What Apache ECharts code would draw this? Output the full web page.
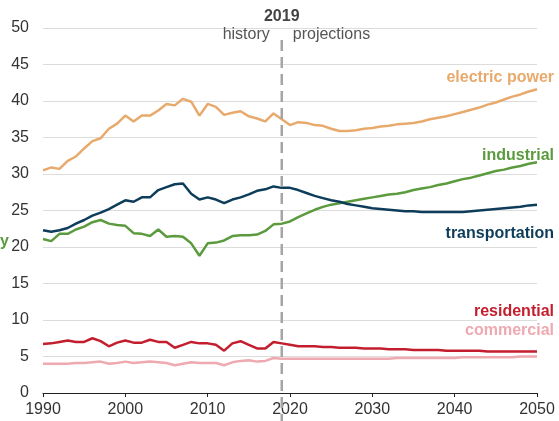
<!DOCTYPE html>
<html>
<head>
<meta charset="utf-8">
<script src="https://cdn.jsdelivr.net/npm/echarts@6/dist/echarts.min.js"></script>
<style>
html, body { margin: 0; padding: 0; background: #fff; }
#chart { width: 559px; height: 421px; }
</style>
</head>
<body>
<div id="chart"></div>
<script>
var startYear = 1990;
var endYear = 2050;
var yTicks = [0, 5, 10, 15, 20, 25, 30, 35, 40, 45, 50];
var xTicks = [1990, 2000, 2010, 2020, 2030, 2040, 2050];

// values per year, 1990..2050
var electricPower = [
    30.5, 30.9, 30.7, 31.8, 32.4, 33.5, 34.5, 34.9, 36.2, 36.9,
    38.0, 37.2, 38.0, 38.0, 38.7, 39.6, 39.4, 40.3, 39.9, 38.0,
    39.6, 39.2, 38.1, 38.4, 38.6, 37.9, 37.6, 37.2, 38.3, 37.5,
    36.7, 37.1, 37.0, 36.7, 36.6, 36.2, 35.9, 35.9, 36.0, 36.2,
    36.3, 36.5, 36.6, 36.8, 36.9, 37.0, 37.2, 37.5, 37.7, 37.9,
    38.2, 38.5, 38.8, 39.1, 39.5, 39.8, 40.2, 40.6, 40.9, 41.3,
    41.6
];
var industrial = [
    21.1, 20.8, 21.8, 21.8, 22.4, 22.8, 23.4, 23.7, 23.2, 23.0,
    22.9, 21.9, 21.8, 21.5, 22.4, 21.4, 21.5, 21.4, 20.5, 18.8,
    20.5, 20.6, 20.9, 21.5, 21.6, 21.6, 21.7, 22.2, 23.1, 23.2,
    23.5, 24.1, 24.6, 25.1, 25.5, 25.8, 26.0, 26.2, 26.4, 26.6,
    26.8, 27.0, 27.2, 27.3, 27.5, 27.8, 28.0, 28.2, 28.5, 28.7,
    29.0, 29.3, 29.5, 29.8, 30.1, 30.4, 30.6, 30.9, 31.1, 31.4,
    31.6
];
var transportation = [
    22.3, 22.1, 22.3, 22.6, 23.2, 23.7, 24.3, 24.7, 25.2, 25.8,
    26.4, 26.2, 26.8, 26.8, 27.8, 28.2, 28.6, 28.7, 27.3, 26.5,
    26.8, 26.5, 26.0, 26.5, 26.8, 27.2, 27.7, 27.9, 28.3, 28.1,
    28.1, 27.8, 27.4, 27.0, 26.7, 26.4, 26.2, 25.9, 25.7, 25.5,
    25.3, 25.2, 25.1, 25.0, 24.9, 24.9, 24.8, 24.8, 24.8, 24.8,
    24.8, 24.8, 24.9, 25.0, 25.1, 25.2, 25.3, 25.4, 25.5, 25.7,
    25.8
];
var residential = [
    6.7, 6.8, 7.0, 7.2, 7.0, 7.0, 7.5, 7.1, 6.4, 6.9,
    7.2, 6.9, 6.9, 7.3, 7.0, 7.0, 6.2, 6.6, 7.0, 6.8,
    6.8, 6.6, 5.8, 6.8, 7.1, 6.6, 6.1, 6.1, 7.0, 6.8,
    6.6, 6.4, 6.4, 6.4, 6.3, 6.3, 6.2, 6.2, 6.2, 6.1,
    6.1, 6.1, 6.0, 6.0, 6.0, 5.9, 5.9, 5.9, 5.9, 5.8,
    5.8, 5.8, 5.8, 5.8, 5.7, 5.7, 5.7, 5.7, 5.7, 5.7,
    5.7
];
var commercial = [
    4.0, 4.0, 4.0, 4.0, 4.1, 4.1, 4.2, 4.3, 4.0, 4.1,
    4.3, 4.1, 4.2, 4.3, 4.2, 4.1, 3.8, 4.0, 4.2, 4.1,
    4.1, 4.1, 3.8, 4.2, 4.4, 4.5, 4.3, 4.4, 4.8, 4.7,
    4.7, 4.7, 4.7, 4.7, 4.7, 4.7, 4.7, 4.7, 4.7, 4.7,
    4.7, 4.7, 4.7, 4.8, 4.8, 4.8, 4.8, 4.8, 4.8, 4.8,
    4.8, 4.9, 4.9, 4.9, 4.9, 4.9, 4.9, 4.9, 5.0, 5.0,
    5.0
];
var splitYear = 2019;

var colors = {
    electric: '#e8aa6c',
    industrial: '#5b9b3d',
    transportation: '#0d3d5a',
    residential: '#c41e2e',
    commercial: '#eea9b1'
};
var FONT = 'Liberation Sans, Arial, sans-serif';

function pairs(values) {
    var out = [];
    for (var i = 0; i < values.length; i++) {
        out.push([startYear + i, values[i]]);
    }
    return out;
}

function lineSeries(name, values, color) {
    return {
        name: name,
        type: 'line',
        data: pairs(values),
        symbol: 'none',
        lineStyle: { color: color, width: 2.5 },
        z: 3
    };
}

var myChart = echarts.init(document.getElementById('chart'));

var option = {
    animation: false,
    textStyle: { fontFamily: FONT },
    grid: { left: 43, right: 22, top: 28, bottom: 28, containLabel: false },
    xAxis: {
        type: 'value',
        min: startYear,
        max: endYear,
        interval: 10,
        axisLine: { show: true, lineStyle: { color: '#222', width: 1.2 } },
        axisTick: { show: true, length: 4, lineStyle: { color: '#222' } },
        axisLabel: {
            color: '#333', fontSize: 16, margin: 9,
            formatter: function (v) { return xTicks.indexOf(v) >= 0 ? String(v) : ''; }
        },
        splitLine: { show: false }
    },
    yAxis: {
        type: 'value',
        min: yTicks[0],
        max: yTicks[yTicks.length - 1],
        interval: 5,
        axisLine: { show: false },
        axisTick: { show: false },
        axisLabel: { color: '#333', fontSize: 16, margin: 14 },
        splitLine: { lineStyle: { color: '#dcdcdc', width: 1 } }
    },
    series: [
        lineSeries('commercial', commercial, colors.commercial),
        lineSeries('residential', residential, colors.residential),
        lineSeries('industrial', industrial, colors.industrial),
        lineSeries('transportation', transportation, colors.transportation),
        lineSeries('electric power', electricPower, colors.electric)
    ]
};

myChart.setOption(option);

// annotations placed from the chart's own x scale
var sx = myChart.convertToPixel({ xAxisIndex: 0 }, splitYear);

function seriesLabel(text, color, y) {
    return {
        type: 'text', x: 554, y: y,
        style: { text: text, fill: color, align: 'right', verticalAlign: 'middle', font: 'bold 16px ' + FONT },
        z: 10
    };
}

myChart.setOption({
    graphic: [
        {
            type: 'line',
            shape: { x1: sx, y1: 40, x2: sx, y2: 421 },
            style: { stroke: '#a5a5a5', lineWidth: 2.5, lineDash: [11, 6] },
            z: 5
        },
        {
            type: 'text', x: sx, y: 17,
            style: { text: '2019', fill: '#444', align: 'center', verticalAlign: 'middle', font: 'bold 16px ' + FONT }
        },
        {
            type: 'text', x: sx - 12, y: 35,
            style: { text: 'history', fill: '#555', align: 'right', verticalAlign: 'middle', font: '16px ' + FONT }
        },
        {
            type: 'text', x: sx + 11, y: 35,
            style: { text: 'projections', fill: '#555', align: 'left', verticalAlign: 'middle', font: '16px ' + FONT }
        },
        seriesLabel('electric power', colors.electric, 78),
        seriesLabel('industrial', colors.industrial, 156),
        seriesLabel('transportation', colors.transportation, 234),
        seriesLabel('residential', colors.residential, 312),
        seriesLabel('commercial', colors.commercial, 331),
        {
            type: 'text', x: 0, y: 242,
            style: { text: 'y', fill: colors.industrial, verticalAlign: 'middle', font: 'bold 16px ' + FONT }
        }
    ]
});
</script>
</body>
</html>
